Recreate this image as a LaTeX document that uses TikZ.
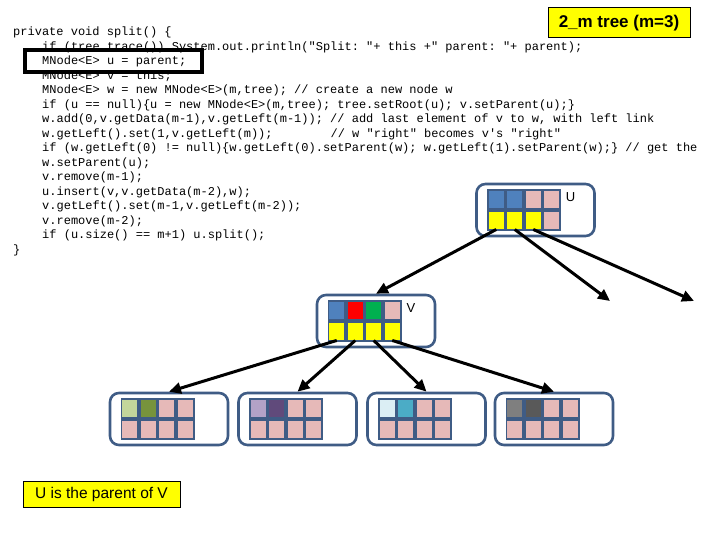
\documentclass[tikz,border=0pt]{standalone}
\usepackage{fontspec}
\setmainfont{Liberation Sans}
\setmonofont{Liberation Mono}
\usetikzlibrary{arrows.meta}
\definecolor{frame}{HTML}{3F5C85}
\definecolor{cblue}{HTML}{4F81BD}
\definecolor{cpink}{HTML}{E6B9B8}
\definecolor{cyel}{HTML}{FFFF00}
\definecolor{cred}{HTML}{FF0000}
\definecolor{cgreen}{HTML}{00B050}
\definecolor{clgreen}{HTML}{C3D69B}
\definecolor{colive}{HTML}{77933C}
\definecolor{clav}{HTML}{B3A2C7}
\definecolor{cpurple}{HTML}{604A7B}
\definecolor{cltblue}{HTML}{DBEEF4}
\definecolor{cteal}{HTML}{4BACC6}
\definecolor{cgray}{HTML}{7F7F7F}
\definecolor{cdgray}{HTML}{595959}
\tikzstyle{tbox}=[
draw=frame,
line width=2.6pt,
rounded corners=9pt,
minimum width=118pt,
minimum height=52pt,
inner sep=0pt
]
\tikzstyle{gridbg}=[fill=frame, minimum width=74pt, minimum height=42pt, inner sep=0pt]
\tikzstyle{cell}=[minimum width=15pt, minimum height=17.5pt, inner sep=0pt]
\tikzstyle{codeline}=[anchor=base west, inner sep=0pt, font=\ttfamily\fontsize{12}{14}\selectfont]
\tikzstyle{lbl}=[inner sep=0pt, font=\fontsize{13}{15}\selectfont]
\tikzstyle{notebox}=[draw=black, fill=cyel, line width=1pt, inner sep=0pt]
\tikzstyle{link}=[draw, line width=3pt, -{Triangle[length=12pt,width=11pt]}]
% one node of the tree: box, grid and two rows of cells
\newcommand{\treenode}[4]{%
  \node[tbox] (#1) at (#2) {};
  \node[gridbg] (#1-g) at ([xshift=-11.5pt]#1.center) {};
  \foreach \col [count=\i] in {#3}
    \node[cell, fill=\col] (#1-t\i) at ([xshift={(\i-2.5)*18.5pt}, yshift=10.5pt]#1-g.center) {};
  \foreach \col [count=\i] in {#4}
    \node[cell, fill=\col] (#1-b\i) at ([xshift={(\i-2.5)*18.5pt}, yshift=-10.5pt]#1-g.center) {};
}

\begin{document}
\begin{tikzpicture}[x=1pt, y=-1pt]
\useasboundingbox (0,0) rectangle (720,540);

% the code
\node[codeline] (l1) at (13,36) {private void split() \{};
\node[codeline] (l2) at (42,50.5) {if (tree.trace()) System.out.println("Split: "+ this +" parent: "+ parent);};
\node[codeline] (l3) at (42,65) {MNode<E> u = parent;};
\node[codeline] (l4) at (42,79.5) {MNode<E> v = this;};
\node[codeline] (l5) at (42,94) {MNode<E> w = new MNode<E>(m,tree); // create a new node w};
\node[codeline] (l6) at (42,108.5) {if (u == null)\{u = new MNode<E>(m,tree); tree.setRoot(u); v.setParent(u);\}};
\node[codeline] (l7) at (42,123) {w.add(0,v.getData(m-1),v.getLeft(m-1)); // add last element of v to w, with left link};
\node[codeline] (l8) at (42,137.5) {w.getLeft().set(1,v.getLeft(m));\hspace{58pt}// w "right" becomes v's "right"};
\node[codeline] (l9) at (42,152) {if (w.getLeft(0) != null)\{w.getLeft(0).setParent(w); w.getLeft(1).setParent(w);\} // get the};
\node[codeline] (l10) at (42,166.5) {w.setParent(u);};
\node[codeline] (l11) at (42,181) {v.remove(m-1);};
\node[codeline] (l12) at (42,195.5) {u.insert(v,v.getData(m-2),w);};
\node[codeline] (l13) at (42,210) {v.getLeft().set(m-1,v.getLeft(m-2));};
\node[codeline] (l14) at (42,224.5) {v.remove(m-2);};
\node[codeline] (l15) at (42,239) {if (u.size() == m+1) u.split();};
\node[codeline] (l16) at (13,253.5) {\}};
\node[draw, line width=3.5pt, minimum width=177pt, minimum height=22pt, inner sep=0pt] (hl) at (113.5,61) {};

% notes
\node[notebox, minimum width=142pt, minimum height=30pt, font=\bfseries\fontsize{17}{20}\selectfont] (title) at (619,23) {2\_m tree (m=3)};
\node[notebox, minimum width=157pt, minimum height=26pt, font=\fontsize{15.5}{18}\selectfont] (cap) at (101.5,494) {U is the parent of V};

% tree
\treenode{U}{535.5,210}{cblue,cblue,cpink,cpink}{cyel,cyel,cyel,cpink}
\node[lbl] (U-l) at ([xshift=35pt,yshift=13pt]U.center) {U};
\treenode{V}{376,321}{cblue,cred,cgreen,cpink}{cyel,cyel,cyel,cyel}
\node[lbl] (V-l) at ([xshift=35pt,yshift=13pt]V.center) {V};
\treenode{ch1}{169,419}{clgreen,colive,cpink,cpink}{cpink,cpink,cpink,cpink}
\treenode{ch2}{297.5,419}{clav,cpurple,cpink,cpink}{cpink,cpink,cpink,cpink}
\treenode{ch3}{426.5,419}{cltblue,cteal,cpink,cpink}{cpink,cpink,cpink,cpink}
\treenode{ch4}{554,419}{cgray,cdgray,cpink,cpink}{cpink,cpink,cpink,cpink}

\coordinate (e1) at (610,301);
\coordinate (e2) at (694,301);
\path[link] (U-b1.south) -- (V.north);
\path[link] (U-b2.south) -- (e1);
\path[link] (U-b3.south) -- (e2);
\foreach \k in {1,...,4}
  \path[link] (V-b\k.south) -- (ch\k.north);

\end{tikzpicture}
\end{document}
